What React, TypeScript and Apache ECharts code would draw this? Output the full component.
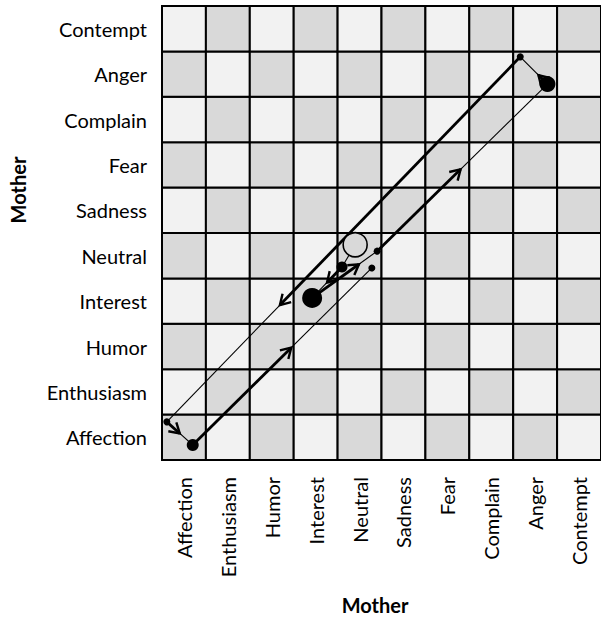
import React, { useEffect, useRef } from "react";
import * as echarts from "echarts";

// Category labels (same for both axes)
const rowLabels = ["Affection", "Enthusiasm", "Humor", "Interest", "Neutral", "Sadness", "Fear", "Complain", "Anger", "Contempt"];
const colLabels = ["Affection", "Enthusiasm", "Humor", "Interest", "Neutral", "Sadness", "Fear", "Complain", "Anger", "Contempt"];

// Trajectory nodes (in cell units: 0..10 on both axes), in visiting order
const nodeX = [4.40, 4.10, 3.42, 4.90, 8.78, 8.16, 0.11, 0.70, 4.78];
const nodeY = [4.74, 4.25, 3.57, 4.60, 8.28, 8.88, 0.84, 0.33, 4.23];
const nodeSize = [24, 11, 20, 7, 16, 7, 7, 12, 7];
const nodeOpen = [true, false, false, false, false, false, false, false, false];
// Position of arrowhead along each transition (fraction from start); 0 = no arrow
const arrowAt = [0, 0.5, 0.72, 0.49, 0.33, 0.68, 0.5, 0.55];

const LIGHT = "#f2f2f2";
const DARK = "#d9d9d9";
const FONT = "Lato, 'Open Sans', sans-serif";

export default function App() {
  const ref = useRef<HTMLDivElement>(null);
  useEffect(() => {
    if (!ref.current) return;
    const chart = echarts.init(ref.current, null, { renderer: "svg" });

    const cells: number[][] = [];
    for (let i = 0; i < colLabels.length; i++) {
      for (let j = 0; j < rowLabels.length; j++) {
        cells.push([i, j, (i + j) % 2]);
      }
    }

    const segs: number[][] = [];
    for (let k = 0; k < nodeX.length - 1; k++) {
      segs.push([nodeX[k], nodeY[k], nodeX[k + 1], nodeY[k + 1], arrowAt[k]]);
    }

    const nodes = nodeX.map((x, i) => ({
      value: [x, nodeY[i]],
      symbolSize: nodeSize[i],
      itemStyle: nodeOpen[i]
        ? { color: DARK, borderColor: "#000", borderWidth: 1.6, opacity: 1 }
        : { color: "#000", opacity: 1 },
    }));

    const option: any = {
      animation: false,
      textStyle: { fontFamily: FONT },
      grid: { left: 162, top: 6, width: 441, height: 454, containLabel: false },
      xAxis: [
        {
          type: "category",
          data: colLabels,
          boundaryGap: true,
          position: "bottom",
          axisLine: { show: false },
          axisTick: { show: false },
          splitLine: { show: false },
          axisLabel: { rotate: 90, fontSize: 20, color: "#000", margin: 17, fontFamily: FONT, interval: 0 },
        },
        { type: "value", min: 0, max: 10, interval: 1, show: false },
      ],
      yAxis: [
        {
          type: "category",
          data: rowLabels,
          boundaryGap: true,
          axisLine: { show: false },
          axisTick: { show: false },
          splitLine: { show: false },
          axisLabel: { fontSize: 20, color: "#000", margin: 15, fontFamily: FONT, interval: 0 },
        },
        { type: "value", min: 0, max: 10, interval: 1, show: false },
      ],
      graphic: [
        {
          type: "text",
          x: 18,
          y: 190,
          rotation: Math.PI / 2,
          style: {
            text: "Mother",
            font: `bold 20px ${FONT}`,
            fill: "#000",
            align: "center",
            verticalAlign: "middle",
          },
        },
        {
          type: "text",
          x: 375,
          y: 605,
          style: {
            text: "Mother",
            font: `bold 20px ${FONT}`,
            fill: "#000",
            align: "center",
            verticalAlign: "middle",
          },
        },
      ],
      series: [
        {
          type: "custom",
          xAxisIndex: 1,
          yAxisIndex: 1,
          silent: true,
          z: 1,
          data: cells,
          renderItem: (params: any, api: any) => {
            const i = api.value(0);
            const j = api.value(1);
            const p = api.coord([i, j + 1]);
            const s = api.size([1, 1]);
            return {
              type: "rect",
              shape: { x: p[0], y: p[1], width: s[0], height: s[1] },
              style: { fill: api.value(2) === 1 ? LIGHT : DARK, stroke: "#000", lineWidth: 2 },
            };
          },
        },
        {
          type: "custom",
          xAxisIndex: 1,
          yAxisIndex: 1,
          silent: true,
          z: 3,
          clip: false,
          data: segs,
          renderItem: (params: any, api: any) => {
            const a = api.coord([api.value(0), api.value(1)]);
            const b = api.coord([api.value(2), api.value(3)]);
            const f = api.value(4);
            const dx = b[0] - a[0];
            const dy = b[1] - a[1];
            const len = Math.sqrt(dx * dx + dy * dy) || 1;
            const ux = dx / len;
            const uy = dy / len;
            const nx = -uy;
            const ny = ux;
            const m = [a[0] + dx * f, a[1] + dy * f];
            const children: any[] = [];
            if (f > 0) {
              children.push({
                type: "line",
                shape: { x1: a[0], y1: a[1], x2: m[0], y2: m[1] },
                style: { stroke: "#000", lineWidth: 2.8 },
              });
              const L = 10;
              const W = 6;
              children.push({
                type: "polyline",
                shape: {
                  points: [
                    [m[0] - ux * L + nx * W, m[1] - uy * L + ny * W],
                    [m[0], m[1]],
                    [m[0] - ux * L - nx * W, m[1] - uy * L - ny * W],
                  ],
                },
                style: { stroke: "#000", lineWidth: 2.4, fill: null },
              });
            }
            children.push({
              type: "line",
              shape: { x1: m[0], y1: m[1], x2: b[0], y2: b[1] },
              style: { stroke: "#000", lineWidth: 1.1 },
            });
            return { type: "group", children };
          },
        },
        {
          type: "scatter",
          xAxisIndex: 1,
          yAxisIndex: 1,
          z: 4,
          symbol: "circle",
          itemStyle: { opacity: 1 },
          data: nodes,
        },
      ],
    };
    chart.setOption(option);
    return () => chart.dispose();
  }, []);

  return (
    <div
      ref={ref}
      style={{ position: "fixed", left: 0, top: 0, width: 601, height: 624, background: "#fff" }}
    />
  );
}
